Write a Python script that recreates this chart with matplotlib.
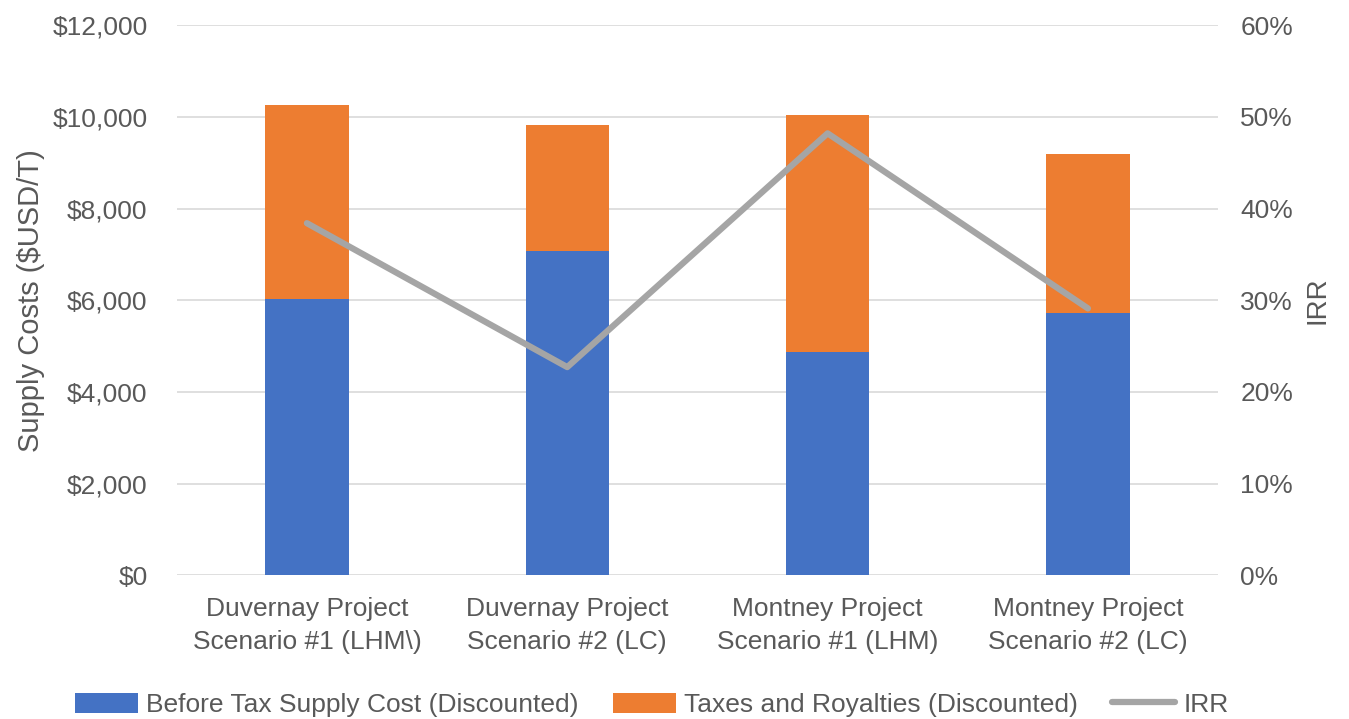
import matplotlib.pyplot as plt
import numpy as np
from matplotlib.ticker import FuncFormatter

plt.rcParams['font.family'] = ['Liberation Sans', 'DejaVu Sans']

# Data
categories = [
    "Duvernay Project\nScenario #1 (LHM\\)",
    "Duvernay Project\nScenario #2 (LC)",
    "Montney Project\nScenario #1 (LHM)",
    "Montney Project\nScenario #2 (LC)",
]
before_tax = [6020, 7070, 4870, 5730]
taxes_royalties = [4240, 2750, 5180, 3470]
irr = [38.4, 22.7, 48.2, 29.1]

text_color = '#595959'
blue = '#4472C4'
orange = '#ED7D31'
grey = '#A5A5A5'

fig = plt.figure(figsize=(13.49, 7.19), dpi=100)
ax = fig.add_axes([0.131, 0.20, 0.772, 0.765])
ax2 = ax.twinx()

x = np.arange(len(categories))
w = 0.32
b1 = ax.bar(x, before_tax, width=w, color=blue, label='Before Tax Supply Cost (Discounted)', zorder=2)
b2 = ax.bar(x, taxes_royalties, width=w, bottom=before_tax, color=orange,
            label='Taxes and Royalties (Discounted)', zorder=2)
l1, = ax2.plot(x, irr, color=grey, linewidth=4.5, label='IRR', solid_capstyle='round', zorder=3)

ax.set_xlim(-0.5, len(categories) - 0.5)
ax.set_ylim(0, 12000)
ax.set_yticks(np.arange(0, 12001, 2000))
ax.yaxis.set_major_formatter(FuncFormatter(lambda v, p: f"${v:,.0f}"))
ax2.set_ylim(0, 60)
ax2.set_yticks(np.arange(0, 61, 10))
ax2.yaxis.set_major_formatter(FuncFormatter(lambda v, p: f"{v:.0f}%"))

ax.grid(axis='y', color='#D9D9D9', linewidth=1.2, zorder=0)
ax.set_axisbelow(True)
for a in (ax, ax2):
    for s in a.spines.values():
        s.set_visible(False)
    a.tick_params(length=0, labelsize=19, colors=text_color)
ax.tick_params(axis='y', pad=21)
ax2.tick_params(axis='y', pad=16)
ax.set_xticks(x)
ax.set_xticklabels(categories, fontsize=19, color=text_color, linespacing=1.45)
ax.tick_params(axis='x', pad=16)

ax.set_ylabel('Supply Costs ($USD/T)', fontsize=21, color=text_color, labelpad=5)
ax2.set_ylabel('IRR', fontsize=20, color=text_color, labelpad=8)

ax.set_zorder(ax2.get_zorder() - 1)
ax.patch.set_visible(False)

fig.legend(handles=[b1, b2, l1], loc='lower center', bbox_to_anchor=(0.483, -0.03), ncol=3,
           frameon=False, fontsize=19, labelcolor=text_color, handlelength=2.4,
           handleheight=0.8, columnspacing=1.3, handletextpad=0.3)

fig.savefig('out.png', dpi=100)
